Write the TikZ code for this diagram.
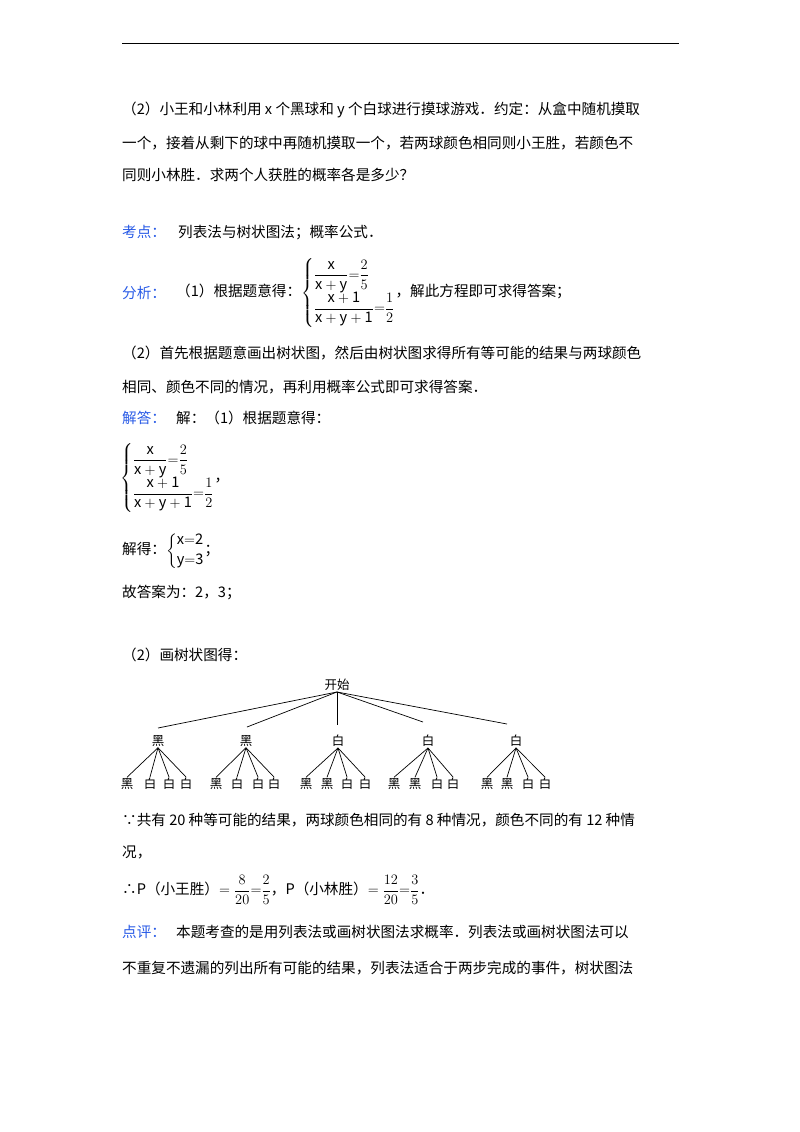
\documentclass[tikz,border=0pt]{standalone}
\usepackage{amsmath}
\usepackage{fontspec}
\setmainfont{Noto Sans CJK SC}
\definecolor{lab}{RGB}{40,90,230}
\newcommand{\sysA}{\left\{\begin{array}{@{}l@{}}\dfrac{\mathrm{x}}{\mathrm{x+y}}{=}\dfrac25\\[7pt] \dfrac{\mathrm{x+1}}{\mathrm{x+y+1}}{=}\dfrac12\end{array}\right.}
\begin{document}
\begin{tikzpicture}[x=1pt,y=-1pt,
  t/.style={anchor=west,inner sep=0pt,font=\fontsize{14.6}{16}\selectfont},
  tr/.style={inner sep=1pt,font=\fontsize{12.5}{14}\selectfont},
  lk/.style={line width=0.7pt}]
\useasboundingbox (0,0) rectangle (800,1132);
\draw[line width=0.8pt] (122,43) -- (679,43);
\node[t] (l1) at (122,110) {（2）小王和小林利用 x 个黑球和 y 个白球进行摸球游戏．约定：从盒中随机摸取};
\node[t] (l2) at (122,143) {一个，接着从剩下的球中再随机摸取一个，若两球颜色相同则小王胜，若颜色不};
\node[t] (l3) at (122,175) {同则小林胜．求两个人获胜的概率各是多少？};
\node[t,text=lab] (k1) at (122,232) {考点：};
\node[t] (k2) at (178,232) {列表法与树状图法；概率公式．};
\node[t,text=lab] (f1) at (122,293) {分析：};
\node[t] (f2) at (176,293) {（1）根据题意得：$\sysA$，解此方程即可求得答案；};
\node[t] (f3) at (122,353) {（2）首先根据题意画出树状图，然后由树状图求得所有等可能的结果与两球颜色};
\node[t] (f4) at (122,387) {相同、颜色不同的情况，再利用概率公式即可求得答案．};
\node[t,text=lab] (j1) at (122,418) {解答：};
\node[t] (j2) at (176,418) {解：（1）根据题意得：};
\node[t] (j3) at (120,478) {$\sysA$，};
\node[t] (j4) at (122,551) {解得：$\left\{\begin{array}{@{}l@{}}\mathrm{x{=}2}\\[4pt] \mathrm{y{=}3}\end{array}\right.$；};
\node[t] (j5) at (122,592) {故答案为：2，3；};
\node[t] (j6) at (122,655) {（2）画树状图得：};
% tree
\node[tr] (root) at (337,685) {开始};
\foreach \n/\x/\lab in {a/158/黑, b/246/黑, c/338/白, d/428/白, e/516/白}{
  \node[tr] (\n) at (\x,741) {\lab};
}
\foreach \n/\ex/\ey in {a/158/728, b/247/727, c/337/725, d/423/722, e/507/724}{
  \coordinate (\n e) at (\ex,\ey);
  \draw[lk] (root.south) -- (\n e);
}
\foreach \p/\i/\x/\lab in {a/1/127/黑,a/2/150/白,a/3/169/白,a/4/186/白,
  b/1/216/黑,b/2/237/白,b/3/258/白,b/4/274/白,
  c/1/306/黑,c/2/327/黑,c/3/347/白,c/4/365/白,
  d/1/394/黑,d/2/415/黑,d/3/437/白,d/4/453/白,
  e/1/487/黑,e/2/507/黑,e/3/528/白,e/4/545/白}{
  \node[tr] (\p\i) at (\x,784) {\lab};
  \draw[lk] (\p.south) -- (\p\i.north);
}
\node[t] (s1) at (122,820) {∵共有 20 种等可能的结果，两球颜色相同的有 8 种情况，颜色不同的有 12 种情};
\node[t] (s2) at (122,852) {况，};
\node[t] (s3) at (122,890) {∴P（小王胜）$=\dfrac{8}{20}{=}\dfrac25$，P（小林胜）$=\dfrac{12}{20}{=}\dfrac35$．};
\node[t,text=lab] (d1) at (122,932) {点评：};
\node[t] (d2) at (176,932) {本题考查的是用列表法或画树状图法求概率．列表法或画树状图法可以};
\node[t] (d3) at (122,968) {不重复不遗漏的列出所有可能的结果，列表法适合于两步完成的事件，树状图法};
\end{tikzpicture}
\end{document}
